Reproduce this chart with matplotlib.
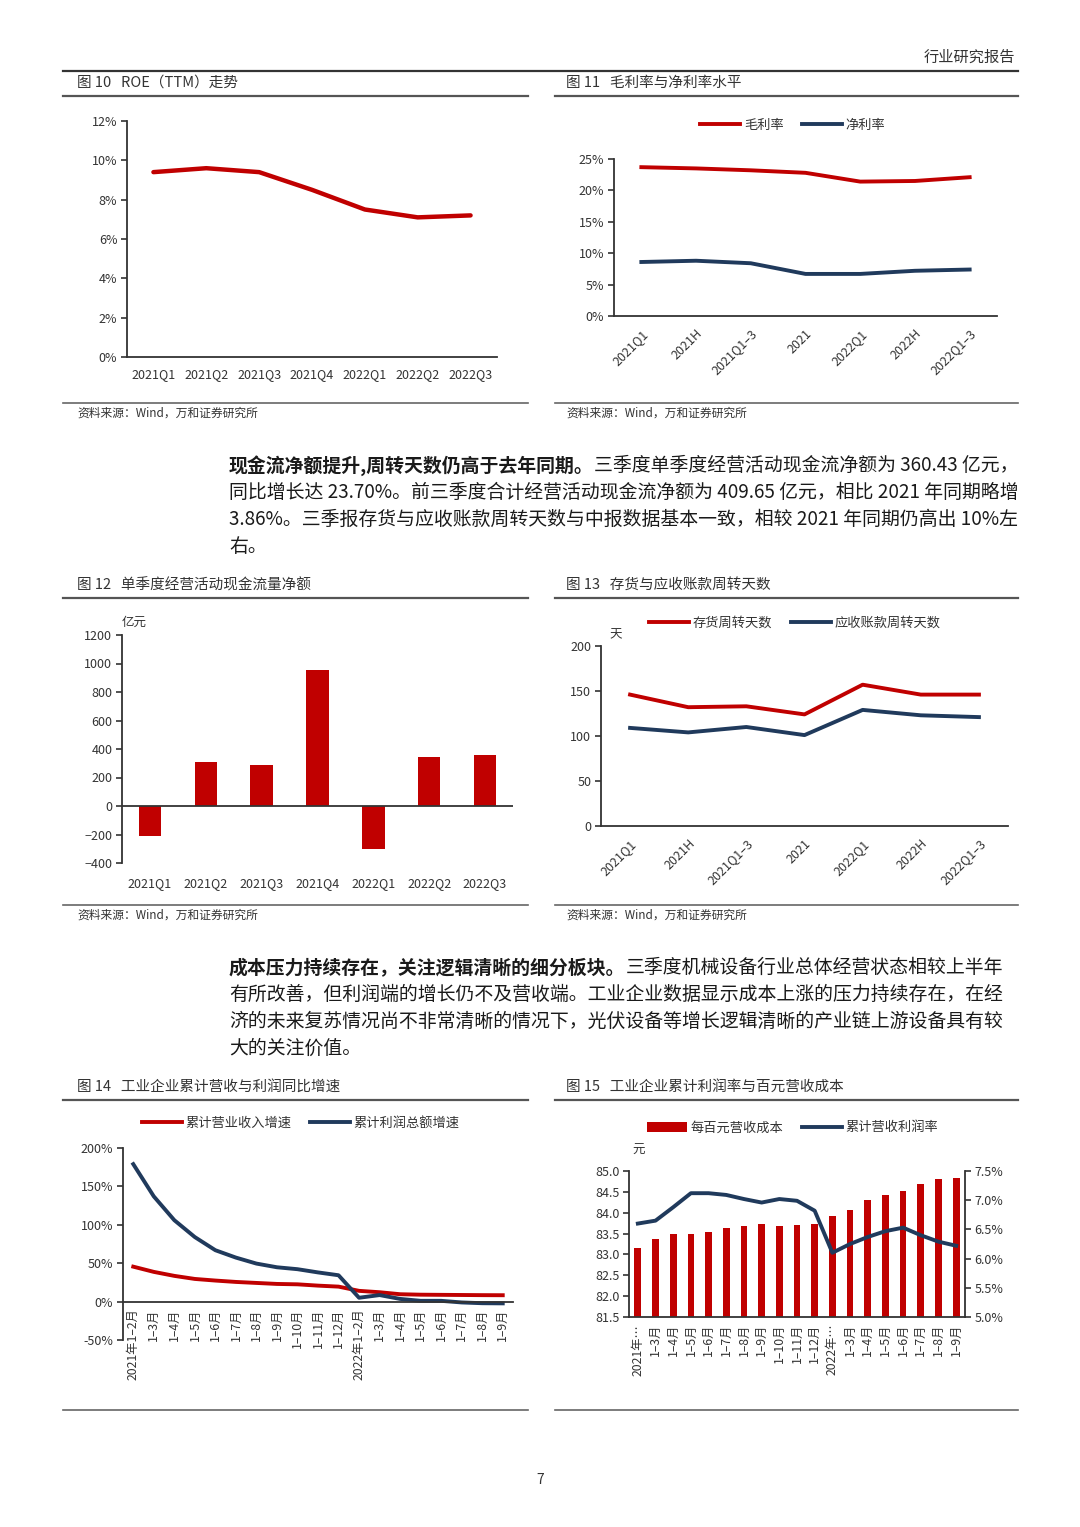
import numpy as np
import matplotlib.pyplot as plt
from matplotlib.lines import Line2D
from matplotlib.ticker import FuncFormatter, MultipleLocator

plt.rcParams['font.family'] = ['Noto Sans CJK SC', 'DejaVu Sans']
plt.rcParams['axes.unicode_minus'] = True

RED = '#C00000'
NAVY = '#203A5C'
AX = '#333333'
TXT = '#1a1a1a'

# ---- data ----
roe_q = ['2021Q1', '2021Q2', '2021Q3', '2021Q4', '2022Q1', '2022Q2', '2022Q3']
roe = [9.4, 9.6, 9.4, 8.5, 7.5, 7.1, 7.2]

periods = ['2021Q1', '2021H', '2021Q1–3', '2021', '2022Q1', '2022H', '2022Q1–3']
gross_margin = [23.7, 23.5, 23.2, 22.8, 21.4, 21.5, 22.1]
net_margin = [8.6, 8.8, 8.4, 6.7, 6.7, 7.2, 7.4]

cash_flow = [-210, 310, 290, 955, -300, 345, 360]

inv_days = [146, 132, 133, 124, 157, 146, 146]
rec_days = [109, 104, 110, 101, 129, 123, 121]

months14 = ['2021年1–2月', '1–3月', '1–4月', '1–5月', '1–6月', '1–7月', '1–8月',
            '1–9月', '1–10月', '1–11月', '1–12月', '2022年1–2月', '1–3月', '1–4月',
            '1–5月', '1–6月', '1–7月', '1–8月', '1–9月']
rev_growth = [45.5, 38.7, 33.5, 29.5, 27.4, 25.6, 24.3, 23.0, 22.5, 20.8, 19.5,
              14.0, 12.2, 9.6, 9.0, 8.8, 8.6, 8.4, 8.3]
profit_growth = [179, 137, 106, 84, 66.9, 57.3, 49.5, 44.7, 42.2, 38.0, 34.3,
                 5.0, 8.5, 3.5, 1.0, 1.0, -1.1, -2.1, -2.3]

months15 = ['2021年…', '1–3月', '1–4月', '1–5月', '1–6月', '1–7月', '1–8月',
            '1–9月', '1–10月', '1–11月', '1–12月', '2022年…', '1–3月', '1–4月',
            '1–5月', '1–6月', '1–7月', '1–8月', '1–9月']
cost_per_100 = [83.15, 83.37, 83.48, 83.48, 83.53, 83.63, 83.68, 83.72, 83.69, 83.71,
                83.74, 83.92, 84.07, 84.31, 84.42, 84.51, 84.70, 84.82, 84.83]
profit_margin = [6.60, 6.65, 6.88, 7.12, 7.12, 7.09, 7.02, 6.96, 7.02, 6.99, 6.82,
                 6.10, 6.25, 6.37, 6.47, 6.53, 6.40, 6.29, 6.22]

W, H = 1080, 1527
fig = plt.figure(figsize=(W / 100, H / 100), dpi=100)


def box(l, t, r, b):
    return fig.add_axes([l / W, 1 - b / H, (r - l) / W, (b - t) / H])


def txt(x, y, s, **kw):
    return fig.text(x / W, 1 - y / H, s, **kw)


def hline(x0, x1, y, lw, c):
    fig.add_artist(Line2D([x0 / W, x1 / W], [1 - y / H, 1 - y / H], lw=lw, color=c,
                          transform=fig.transFigure))


def style(ax):
    for s in ['top', 'right']:
        ax.spines[s].set_visible(False)
    for s in ['left', 'bottom']:
        ax.spines[s].set_color(AX)
        ax.spines[s].set_linewidth(1.3)
    ax.tick_params(axis='y', length=4, width=1.2, color=AX, labelsize=9,
                   labelcolor='#333333', pad=3)
    ax.tick_params(axis='x', length=0, labelsize=9, labelcolor='#333333')


def legend(ax, cx, cy, handles, labels):
    ax.legend(handles, labels, loc='center', bbox_to_anchor=(cx / W, 1 - cy / H),
              bbox_transform=fig.transFigure, ncol=2, frameon=False, fontsize=9.5,
              handlelength=3.0, handletextpad=0.3, columnspacing=1.4,
              labelcolor='#333333')


pct = FuncFormatter(lambda v, p: f'{v:.0f}%')

# ---- page header ----
txt(1015, 57, '行业研究报告', ha='right', va='center', fontsize=11, color='#333333')
hline(63, 1018, 71, 1.6, '#333333')

# titles and rules
for x0, x1, xt, y, t in [(63, 528, 77, 83, '图 10   ROE（TTM）走势'),
                         (555, 1018, 566, 83, '图 11   毛利率与净利率水平'),
                         (63, 528, 77, 585, '图 12   单季度经营活动现金流量净额'),
                         (555, 1018, 566, 585, '图 13   存货与应收账款周转天数'),
                         (63, 528, 77, 1087, '图 14   工业企业累计营收与利润同比增速'),
                         (555, 1018, 566, 1087, '图 15   工业企业累计利润率与百元营收成本')]:
    txt(xt, y, t, ha='left', va='center', fontsize=10.5, color='#333333')
    hline(x0, x1, y + 13, 1.6, '#555555')

for x0, x1, xt, y in [(63, 528, 77, 403), (555, 1018, 566, 403),
                      (63, 528, 77, 905), (555, 1018, 566, 905)]:
    hline(x0, x1, y, 1.2, '#666666')
    txt(xt, y + 10, '资料来源：Wind，万和证券研究所', ha='left', va='center',
        fontsize=8.5, color='#333333')

hline(63, 528, 1410, 1.2, '#666666')
hline(555, 1018, 1410, 1.2, '#666666')

# ---- Fig 10 ROE ----
ax = box(127, 121, 497, 357)
x = np.arange(len(roe_q))
ax.plot(x, roe, color=RED, lw=3.2, solid_capstyle='round')
ax.set_xlim(-0.5, len(roe_q) - 0.5)
ax.set_ylim(0, 12)
ax.yaxis.set_major_locator(MultipleLocator(2))
ax.yaxis.set_major_formatter(pct)
ax.set_xticks(x)
ax.set_xticklabels(roe_q)
style(ax)
ax.tick_params(axis='x', pad=8)

# ---- Fig 11 margins ----
ax = box(614, 159, 997, 316)
x = np.arange(len(periods))
l1, = ax.plot(x, gross_margin, color=RED, lw=2.8)
l2, = ax.plot(x, net_margin, color=NAVY, lw=2.8)
ax.set_xlim(-0.5, len(periods) - 0.5)
ax.set_ylim(0, 25)
ax.yaxis.set_major_locator(MultipleLocator(5))
ax.yaxis.set_major_formatter(pct)
ax.set_xticks(x)
ax.set_xticklabels(periods, rotation=45, ha='right', va='top', rotation_mode='anchor')
style(ax)
ax.tick_params(axis='x', pad=8)
legend(ax, 793, 125, [l1, l2], ['毛利率', '净利率'])

# ---- Fig 12 cash flow ----
ax = box(122, 635, 513, 863)
x = np.arange(len(roe_q))
ax.bar(x, cash_flow, width=0.4, color=RED)
ax.axhline(0, color=AX, lw=1.3)
ax.set_xlim(-0.5, len(roe_q) - 0.5)
ax.set_ylim(-400, 1200)
ax.yaxis.set_major_locator(MultipleLocator(200))
ax.set_xticks(x)
ax.set_xticklabels(roe_q)
style(ax)
ax.spines['bottom'].set_visible(False)
ax.tick_params(axis='x', pad=10)
txt(122, 622, '亿元', ha='left', va='center', fontsize=9, color='#333333')

# ---- Fig 13 turnover days ----
ax = box(601, 646, 1008, 826)
x = np.arange(len(periods))
l1, = ax.plot(x, inv_days, color=RED, lw=2.8)
l2, = ax.plot(x, rec_days, color=NAVY, lw=2.8)
ax.set_xlim(-0.5, len(periods) - 0.5)
ax.set_ylim(0, 200)
ax.yaxis.set_major_locator(MultipleLocator(50))
ax.set_xticks(x)
ax.set_xticklabels(periods, rotation=45, ha='right', va='top', rotation_mode='anchor')
style(ax)
ax.tick_params(axis='x', pad=8)
txt(609, 635, '天', ha='left', va='center', fontsize=9, color='#333333')
legend(ax, 795, 623, [l1, l2], ['存货周转天数', '应收账款周转天数'])

# ---- Fig 14 growth ----
ax = box(123, 1148, 513, 1340)
style(ax)
ax.spines['bottom'].set_position(('data', 0))
x = np.arange(len(months14))
l1, = ax.plot(x, rev_growth, color=RED, lw=2.8)
l2, = ax.plot(x, profit_growth, color=NAVY, lw=2.8)
ax.set_xlim(-0.5, len(months14) - 0.5)
ax.set_ylim(-50, 200)
ax.yaxis.set_major_locator(MultipleLocator(50))
ax.yaxis.set_major_formatter(pct)
ax.set_xticks(x)
ax.set_xticklabels(months14, rotation=90, ha='center', va='top')
ax.tick_params(axis='x', length=0, labelsize=8.8, labelcolor='#333333', pad=5)
legend(ax, 301, 1123, [l1, l2], ['累计营业收入增速', '累计利润总额增速'])

# ---- Fig 15 cost & margin ----
ax = box(629, 1171, 965, 1317)
x = np.arange(len(months15))
b = ax.bar(x, cost_per_100, width=0.38, color=RED)
ax.set_xlim(-0.5, len(months15) - 0.5)
ax.set_ylim(81.5, 85.0)
ax.yaxis.set_major_locator(MultipleLocator(0.5))
ax.yaxis.set_major_formatter(FuncFormatter(lambda v, p: f'{v:.1f}'))
ax.set_xticks(x)
ax.set_xticklabels(months15, rotation=90, ha='center', va='top')
style(ax)
ax.tick_params(axis='x', labelsize=8.8, pad=5)
ax2 = ax.twinx()
l2, = ax2.plot(x, profit_margin, color=NAVY, lw=2.8)
ax2.set_ylim(5.0, 7.5)
ax2.yaxis.set_major_locator(MultipleLocator(0.5))
ax2.yaxis.set_major_formatter(FuncFormatter(lambda v, p: f'{v:.1f}%'))
for s in ['top', 'left', 'bottom']:
    ax2.spines[s].set_visible(False)
ax2.spines['right'].set_color(AX)
ax2.spines['right'].set_linewidth(1.3)
ax2.tick_params(axis='y', length=4, width=1.2, color=AX, labelsize=9,
                labelcolor='#333333', pad=3)
txt(632, 1150, '元', ha='left', va='center', fontsize=9, color='#333333')
legend(ax2, 793, 1128, [b, l2], ['每百元营收成本', '累计营收利润率'])


# ---- paragraphs ----
FS = 13.6


def para(y0, bold, lines):
    # y0 = bottom of first line's box (px from top)
    t = txt(229, y0, bold, ha='left', va='bottom', fontsize=FS, color=TXT,
            fontweight='bold')
    fig.add_artist(plt.Annotation(lines[0], xy=(1, 0), xycoords=t, ha='left',
                                  va='bottom', fontsize=FS, color=TXT))
    for i, s in enumerate(lines[1:], start=1):
        txt(229, y0 + 27 * i, s, ha='left', va='bottom', fontsize=FS, color=TXT)


para(476, '现金流净额提升,周转天数仍高于去年同期。',
     ['三季度单季度经营活动现金流净额为 360.43 亿元，',
      '同比增长达 23.70%。前三季度合计经营活动现金流净额为 409.65 亿元，相比 2021 年同期略增',
      '3.86%。三季报存货与应收账款周转天数与中报数据基本一致，相较 2021 年同期仍高出 10%左',
      '右。'])

para(978, '成本压力持续存在，关注逻辑清晰的细分板块。',
     ['三季度机械设备行业总体经营状态相较上半年',
      '有所改善，但利润端的增长仍不及营收端。工业企业数据显示成本上涨的压力持续存在，在经',
      '济的未来复苏情况尚不非常清晰的情况下，光伏设备等增长逻辑清晰的产业链上游设备具有较',
      '大的关注价值。'])

txt(540, 1480, '7', ha='center', va='center', fontsize=10, color='#333333')

fig.savefig('out.png', dpi=100, facecolor='white')
